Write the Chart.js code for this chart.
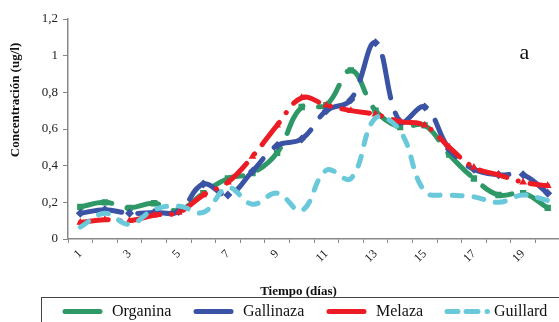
<!DOCTYPE html>
<html>
<head>
<meta charset="utf-8">
<script src="https://cdn.jsdelivr.net/npm/chart.js@4"></script>
<style>
  html, body { margin: 0; padding: 0; background: #fff; overflow: hidden; }
  #wrap { position: relative; width: 600px; height: 322px; }
</style>
</head>
<body>
<div id="wrap"><canvas id="chart" width="600" height="322"></canvas></div>
<script>
// datos (concentración ug/l por día)
var dias = ['1','2','3','4','5','6','7','8','9','10','11','12','13','14','15','16','17','18','19','20'];
var organina  = [0.175, 0.20, 0.17, 0.195, 0.155, 0.25, 0.33, 0.36, 0.47, 0.72, 0.73, 0.92, 0.70, 0.61, 0.62, 0.46, 0.33, 0.24, 0.25, 0.17];
var gallinaza = [0.14, 0.16, 0.14, 0.145, 0.15, 0.30, 0.24, 0.37, 0.51, 0.545, 0.70, 0.76, 1.07, 0.64, 0.72, 0.49, 0.38, 0.35, 0.35, 0.25];
var melaza    = [0.09, 0.105, 0.10, 0.13, 0.145, 0.24, 0.31, 0.45, 0.62, 0.77, 0.73, 0.70, 0.68, 0.64, 0.62, 0.50, 0.39, 0.35, 0.31, 0.29];
var guillard  = [0.065, 0.14, 0.08, 0.16, 0.18, 0.145, 0.28, 0.19, 0.25, 0.155, 0.375, 0.33, 0.66, 0.59, 0.26, 0.24, 0.23, 0.20, 0.24, 0.21];
var series = ['Organina', 'Gallinaza', 'Melaza', 'Guillard'];
var colores = ['#2E9866', '#3A53A4', '#ED1C24', '#69C8DA'];
var yTicks = [0, 0.2, 0.4, 0.6, 0.8, 1, 1.2];

var serif = '"Liberation Serif", "Times New Roman", serif';

function linea(i, data, dash, punto, orden) {
  return {
    label: series[i],
    data: data,
    borderColor: colores[i],
    backgroundColor: colores[i],
    borderWidth: 5,
    borderDash: dash,
    borderCapStyle: 'round',
    borderJoinStyle: 'round',
    tension: 0.4,
    pointStyle: punto,
    pointRadius: punto ? 4.5 : 0,
    pointBorderWidth: 0,
    order: orden,
    fill: false
  };
}

var extras = {
  id: 'extras',
  afterDraw: function(chart) {
    var ctx = chart.ctx;
    ctx.save();
    ctx.fillStyle = '#111';
    // titulo eje y
    ctx.font = 'bold 13px ' + serif;
    ctx.textAlign = 'center';
    ctx.textBaseline = 'middle';
    ctx.save();
    ctx.translate(16, 100);
    ctx.rotate(-Math.PI / 2);
    ctx.fillText('Concentración (ug/l)', 0, 0);
    ctx.restore();
    // titulo eje x
    ctx.fillText('Tiempo (días)', 298.5, 292);
    // letra del panel
    ctx.font = '22px ' + serif;
    ctx.textBaseline = 'alphabetic';
    ctx.fillText('a', 524.5, 59);
    // leyenda
    ctx.strokeStyle = '#444';
    ctx.lineWidth = 1;
    ctx.strokeRect(41.5, 297.5, 620, 40);
    var pos = [[63, 102, 112], [194, 233, 243], [327, 366, 376], [445, 491, 494]];
    ctx.font = '16px ' + serif;
    ctx.textAlign = 'left';
    ctx.textBaseline = 'middle';
    ctx.lineCap = 'round';
    ctx.lineWidth = 5;
    for (var i = 0; i < series.length; i++) {
      var p = pos[i];
      ctx.strokeStyle = colores[i];
      ctx.beginPath();
      if (i === 3) {
        ctx.moveTo(p[0] + 2, 311.5); ctx.lineTo(p[0] + 13, 311.5);
        ctx.moveTo(p[0] + 21, 311.5); ctx.lineTo(p[0] + 33, 311.5);
        ctx.moveTo(p[0] + 42, 311.5); ctx.lineTo(p[0] + 42.5, 311.5);
      } else {
        ctx.moveTo(p[0] + 2, 311.5); ctx.lineTo(p[1] - 2, 311.5);
      }
      ctx.stroke();
      ctx.fillStyle = '#111';
      ctx.fillText(series[i], p[2], 312);
    }
    ctx.restore();
  }
};

new Chart(document.getElementById('chart'), {
  type: 'line',
  data: {
    labels: dias,
    datasets: [
      linea(0, organina, [32, 16], 'rect', 4),
      linea(1, gallinaza, [42, 16], 'rectRot', 3),
      linea(2, melaza, [28, 12, 0.1, 12], 'triangle', 2),
      linea(3, guillard, [10, 12], false, 1)
    ]
  },
  options: {
    responsive: false,
    animation: false,
    devicePixelRatio: 1,
    layout: { padding: { top: 19, right: 40, left: 0, bottom: 0 } },
    plugins: {
      legend: { display: false },
      title: { display: false },
      tooltip: { enabled: false }
    },
    scales: {
      x: {
        type: 'category',
        offset: true,
        grid: { offset: true, drawOnChartArea: false, drawTicks: true, tickLength: 4, color: '#888' },
        border: { display: true, color: '#888', width: 1.5 },
        ticks: {
          autoSkip: false,
          minRotation: 45,
          maxRotation: 45,
          padding: 4,
          color: '#222',
          font: { family: serif, size: 12 },
          callback: function(v, i) { return i % 2 === 0 ? dias[i] : ''; }
        },
        afterFit: function(s) { s.height = 83; }
      },
      y: {
        min: 0,
        max: 1.2,
        afterBuildTicks: function(s) { s.ticks = yTicks.map(function(v) { return { value: v }; }); },
        grid: { drawOnChartArea: false, drawTicks: true, tickLength: 5, color: '#888' },
        border: { display: true, color: '#888', width: 1.5 },
        ticks: {
          padding: 5,
          color: '#222',
          font: { family: serif, size: 13 },
          callback: function(v) { return String(Math.round(v * 10) / 10).replace('.', ','); }
        },
        afterFit: function(s) { s.width = 68; }
      }
    }
  },
  plugins: [extras]
});
</script>
</body>
</html>
